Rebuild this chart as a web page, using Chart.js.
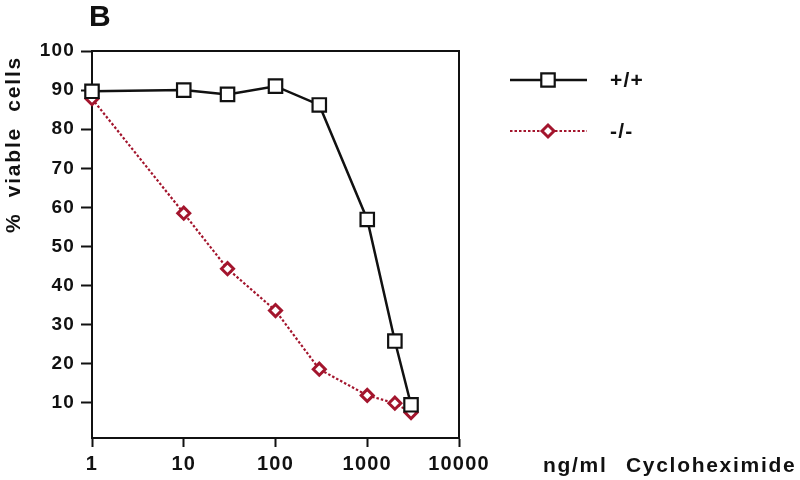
<!DOCTYPE html>
<html lang="en">
<head>
<meta charset="UTF-8">
<title>Cycloheximide viability</title>
<style>
    html, body { margin: 0; padding: 0; background: #fff; }
    #wrap { width: 800px; height: 480px; }
</style>
</head>
<body>
<div id="wrap"><canvas id="myChart" width="800" height="480"></canvas></div>
<script src="https://cdn.jsdelivr.net/npm/chart.js"></script>
<script>
// ng/ml cycloheximide
const doses = [1, 10, 30, 100, 300, 1000, 2000, 3000];
// % viable cells
const wildType = [89.7, 90, 88.9, 91, 86.2, 56.9, 25.8, 9.5];
const knockOut = [87.8, 58.5, 44.3, 33.6, 18.6, 11.9, 9.9, 7.5];

const seriesLabels = ['+/+', '-/-'];
const xTicks = [1, 10, 100, 1000, 10000];
const yTicks = [10, 20, 30, 40, 50, 60, 70, 80, 90, 100];

const FONT = "'Liberation Sans', Arial, Helvetica, sans-serif";
const INK = '#111';
const RED = '#a3152d';

function pairs(xs, ys) {
    return xs.map((x, i) => ({ x: x, y: ys[i] }));
}

// frame, panel letter, axis titles and legend
const decorations = {
    id: 'decorations',
    beforeUpdate(chart) { chart.ctx.letterSpacing = '1.2px'; },
    beforeDraw(chart) { chart.ctx.letterSpacing = '1.2px'; },
    afterDraw(chart) {
        const ctx = chart.ctx;
        const a = chart.chartArea;
        ctx.save();
        ctx.strokeStyle = INK;
        ctx.lineWidth = 2;
        ctx.beginPath();
        ctx.moveTo(a.left, a.top);
        ctx.lineTo(a.right, a.top);
        ctx.lineTo(a.right, a.bottom);
        ctx.stroke();

        ctx.fillStyle = INK;
        ctx.textBaseline = 'alphabetic';
        ctx.letterSpacing = '0px';
        ctx.font = 'bold 30px ' + FONT;
        ctx.fillText('B', 89, 26);

        // y title
        ctx.save();
        ctx.translate(20, 233);
        ctx.rotate(-Math.PI / 2);
        ctx.font = 'bold 21px ' + FONT;
        ctx.letterSpacing = '1.8px';
        ctx.textAlign = 'left';
        ctx.fillText('%  viable  cells', 0, 0);
        ctx.restore();

        // x title
        ctx.font = 'bold 21px ' + FONT;
        ctx.letterSpacing = '1.7px';
        ctx.textBaseline = 'middle';
        ctx.fillText('ng/ml', 543, 466);
        ctx.fillText('Cycloheximide', 626, 466);

        // legend
        const rows = [80, 131];
        chart.data.datasets.forEach((ds, i) => {
            const y = rows[i];
            ctx.save();
            ctx.strokeStyle = ds.borderColor;
            ctx.lineWidth = ds.borderWidth;
            ctx.setLineDash(ds.borderDash || []);
            ctx.beginPath();
            ctx.moveTo(510, y);
            ctx.lineTo(587, y);
            ctx.stroke();
            ctx.restore();
            Chart.helpers.drawPoint(ctx, {
                pointStyle: ds.pointStyle,
                radius: ds.pointRadius,
                rotation: 0,
                borderWidth: ds.pointBorderWidth
            }, 548, y);
            ctx.fillStyle = INK;
            ctx.font = 'bold 21px ' + FONT;
            ctx.letterSpacing = '1.2px';
            ctx.textBaseline = 'middle';
            ctx.fillText(ds.label, 610, y + 1);
        });
        ctx.restore();
    }
};

// drawPoint needs fill/stroke set on the context
const origDrawPoint = Chart.helpers.drawPoint;
Chart.helpers.drawPoint = function (ctx, opts, x, y) {
    const ds = opts.pointStyle === 'rect' ? 0 : 1;
    ctx.save();
    ctx.fillStyle = '#fff';
    ctx.strokeStyle = ds === 0 ? INK : RED;
    ctx.lineWidth = opts.borderWidth;
    ctx.setLineDash([]);
    origDrawPoint(ctx, opts, x, y);
    ctx.restore();
};

const ctx = document.getElementById('myChart').getContext('2d');
const myChart = new Chart(ctx, {
    type: 'line',
    data: {
        datasets: [{
            label: seriesLabels[0],
            data: pairs(doses, wildType),
            borderColor: INK,
            borderWidth: 2.5,
            backgroundColor: '#fff',
            pointStyle: 'rect',
            pointRadius: 9.5,
            pointBorderWidth: 2.2,
            pointBackgroundColor: '#fff',
            pointBorderColor: INK,
            tension: 0,
            clip: false
        }, {
            label: seriesLabels[1],
            data: pairs(doses, knockOut),
            borderColor: RED,
            borderWidth: 2.2,
            borderDash: [2.5, 2],
            backgroundColor: '#fff',
            pointStyle: 'rectRot',
            pointRadius: 6,
            pointBorderWidth: 3,
            pointBackgroundColor: '#fff',
            pointBorderColor: RED,
            tension: 0,
            clip: false
        }]
    },
    options: {
        responsive: false,
        animation: false,
        layout: { padding: { left: 0, top: 51, right: 341, bottom: 0 } },
        plugins: {
            legend: { display: false },
            tooltip: { enabled: false }
        },
        scales: {
            x: {
                type: 'logarithmic',
                min: 1,
                max: 10000,
                afterBuildTicks: (axis) => { axis.ticks = xTicks.map(v => ({ value: v })); },
                afterFit: (axis) => { axis.height = 42; },
                grid: { display: true, drawOnChartArea: false, drawTicks: true, tickLength: 9, tickWidth: 2, color: INK },
                border: { display: true, color: INK, width: 2 },
                ticks: {
                    autoSkip: false,
                    maxRotation: 0,
                    padding: 5,
                    color: INK,
                    font: { family: FONT, size: 20, weight: 'bold' },
                    callback: (v) => String(v)
                }
            },
            y: {
                min: 1,
                max: 100,
                afterBuildTicks: (axis) => { axis.ticks = yTicks.map(v => ({ value: v })); },
                afterFit: (axis) => { axis.width = 92; },
                grid: { display: true, drawOnChartArea: false, drawTicks: true, tickLength: 11, tickWidth: 2, color: INK },
                border: { display: true, color: INK, width: 2 },
                ticks: {
                    padding: 6,
                    color: INK,
                    font: { family: FONT, size: 19, weight: 'bold' }
                }
            }
        }
    },
    plugins: [decorations]
});
</script>
</body>
</html>
